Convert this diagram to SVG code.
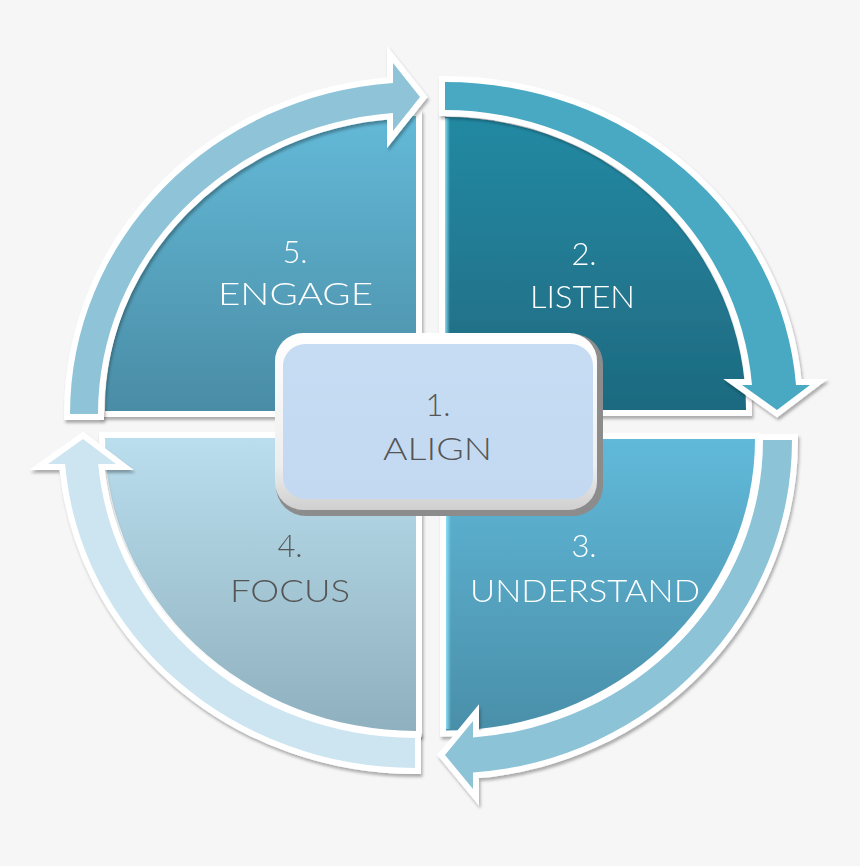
<svg xmlns="http://www.w3.org/2000/svg" width="860" height="866" viewBox="0 0 860 866">
  <defs>
    <filter id="sh" x="-10%" y="-10%" width="120%" height="120%">
      <feDropShadow dx="1.5" dy="3" stdDeviation="1.5" flood-color="#000" flood-opacity="0.3"/>
    </filter>
    <linearGradient id="g5" x1="0" y1="0" x2="0" y2="1">
      <stop offset="0" stop-color="#63bad8"/>
      <stop offset="1" stop-color="#4a8ca5"/>
    </linearGradient>
    <linearGradient id="g2" x1="0" y1="0" x2="0" y2="1">
      <stop offset="0" stop-color="#2489a3"/>
      <stop offset="1" stop-color="#1e6a80"/>
    </linearGradient>
    <linearGradient id="g3" x1="0" y1="0" x2="0" y2="1">
      <stop offset="0" stop-color="#60b9d9"/>
      <stop offset="1" stop-color="#4a8fa9"/>
    </linearGradient>
    <linearGradient id="g4" x1="0" y1="0" x2="0" y2="1">
      <stop offset="0" stop-color="#badeee"/>
      <stop offset="1" stop-color="#8fb0be"/>
    </linearGradient>
    <linearGradient id="hl" x1="0" y1="0" x2="1" y2="0">
      <stop offset="0" stop-color="#8fe6fa" stop-opacity="0.9"/>
      <stop offset="1" stop-color="#8fe6fa" stop-opacity="0"/>
    </linearGradient>
    <linearGradient id="bevel" x1="0" y1="0" x2="0" y2="1">
      <stop offset="0" stop-color="#ffffff"/>
      <stop offset="0.75" stop-color="#eeeeee"/>
      <stop offset="1" stop-color="#cfcfcf"/>
    </linearGradient>
    <linearGradient id="inner" x1="0" y1="0" x2="0" y2="1">
      <stop offset="0" stop-color="#c6dcf3"/>
      <stop offset="1" stop-color="#c3d9f1"/>
    </linearGradient>
  </defs>
  <style>
    .seg { stroke: #ffffff; stroke-width: 12; paint-order: stroke; stroke-linejoin: miter; stroke-miterlimit: 10; }
    .lbl { font-family: Lato, "Open Sans", "Liberation Sans", sans-serif; font-weight: 300; font-size: 31px; }
    .w { fill: #ffffff; }
    .d { fill: #555555; }
  </style>

  <rect x="0" y="0" width="860" height="866" fill="#f6f6f6"/>

  <!-- 5. ENGAGE (top-left) -->
  <g id="node-5-engage" filter="url(#sh)">
    <path class="seg" d="M 416 411 L 105 411 A 311 295 0 0 1 416 116 Z" fill="url(#g5)"/>
    <text class="lbl w" x="295" y="263" text-anchor="middle">5.</text>
    <text class="lbl w" x="218" y="305" textLength="155" lengthAdjust="spacingAndGlyphs">ENGAGE</text>
  </g>

  <!-- 2. LISTEN (top-right) -->
  <g id="node-2-listen" filter="url(#sh)">
    <path class="seg" d="M 445 410 L 445 117 A 301 293 0 0 1 746 410 Z" fill="url(#g2)"/>
    <rect x="445" y="118" width="5" height="292" fill="url(#hl)"/>
    <text class="lbl w" x="584" y="265" text-anchor="middle">2.</text>
    <text class="lbl w" x="530" y="308" textLength="105" lengthAdjust="spacingAndGlyphs">LISTEN</text>
  </g>

  <!-- 3. UNDERSTAND (bottom-right) -->
  <g id="node-3-understand" filter="url(#sh)">
    <path class="seg" d="M 446 439 L 755 439 A 309 291.6 0 0 1 446 730.6 Z" fill="url(#g3)"/>
    <rect x="446" y="439" width="5" height="290" fill="url(#hl)"/>
    <text class="lbl w" x="584" y="557" text-anchor="middle">3.</text>
    <text class="lbl w" x="470" y="602" textLength="230" lengthAdjust="spacingAndGlyphs">UNDERSTAND</text>
  </g>

  <!-- 4. FOCUS (bottom-left) -->
  <g id="node-4-focus" filter="url(#sh)">
    <path class="seg" d="M 416 438 L 416 731 A 311 293 0 0 1 105 438 Z" fill="url(#g4)"/>
    <text class="lbl d" x="290" y="557" text-anchor="middle">4.</text>
    <text class="lbl d" x="230" y="602" textLength="120" lengthAdjust="spacingAndGlyphs">FOCUS</text>
  </g>

  <!-- curved arrows -->
  <g id="connectors" filter="url(#sh)">
    <path id="arrow-5-to-2" class="seg" fill="#8fc4d8"
      d="M 70 414 A 349 332 0 0 1 393 82.9 L 393 63 L 420 97 L 393 131 L 393 113 A 321 302 0 0 0 98 414 Z"/>
    <path id="arrow-2-to-3" class="seg" fill="#4aa9c3"
      d="M 445 82 A 352 328 0 0 1 796 385 L 810 385 L 777 410 L 742 385 L 752 385 A 308 300 0 0 0 445 110 Z"/>
    <path id="arrow-3-to-4" class="seg" fill="#8cc3d7"
      d="M 792 440 A 345 333.5 0 0 1 473 772.6 L 473 789 L 445 755 L 473 721 L 473 737.6 A 316 298.6 0 0 0 763 440 Z"/>
    <path id="arrow-4-to-5" class="seg" fill="#cce5f0"
      d="M 415 768 A 351 330 0 0 1 65.1 464 L 48 464 L 83 439 L 116 464 L 98.2 464 A 318 300 0 0 0 415 738 Z"/>
  </g>

  <!-- 1. ALIGN (center) -->
  <g id="node-1-align">
    <rect x="276" y="334" width="327" height="182" rx="30" fill="#8c8c8c"/>
    <rect x="275" y="333" width="322" height="177" rx="28" fill="url(#bevel)"/>
    <rect x="283" y="344" width="310" height="155" rx="22" fill="url(#inner)"/>
    <text class="lbl d" x="438" y="416" text-anchor="middle">1.</text>
    <text class="lbl d" x="383" y="460" textLength="109" lengthAdjust="spacingAndGlyphs">ALIGN</text>
  </g>
</svg>
